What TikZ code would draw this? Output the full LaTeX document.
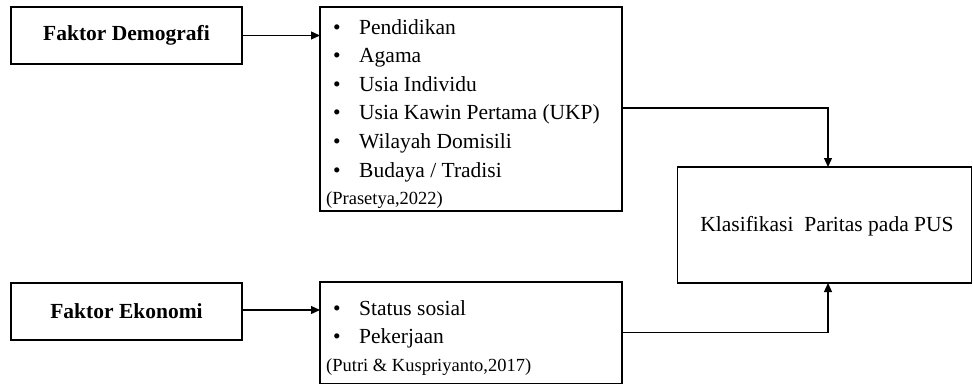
\documentclass[tikz,border=0pt]{standalone}
\usepackage{fontspec}
\setmainfont{Liberation Serif}
\usetikzlibrary{arrows.meta}
\begin{document}
\begin{tikzpicture}[x=1pt,y=-1pt]
\tikzset{
  box/.style={draw, line width=1.5pt, inner sep=0pt, outer sep=0pt},
  conn/.style={line width=1.3pt, -{Triangle[length=9pt,width=8pt]}},
  item/.style={anchor=base west, inner sep=0pt, font=\fontsize{21.5}{25}\selectfont},
  cite/.style={anchor=base west, inner sep=0pt, font=\fontsize{18.5}{22}\selectfont},
  head/.style={font=\fontsize{21.5}{25}\selectfont\bfseries},
  plain/.style={font=\fontsize{21.5}{25}\selectfont}
}
\useasboundingbox (0,0) rectangle (973,385);
% boxes
\node[box, head, minimum width=231pt, minimum height=57pt] (demo) at (126.5,35.5) {Faktor Demografi};
\node[box, head, minimum width=231pt, minimum height=57pt] (eko) at (126.5,311.5) {Faktor Ekonomi};
\node[box, minimum width=302pt, minimum height=204pt] (demolist) at (471,109) {};
\node[box, minimum width=302pt, minimum height=101.5pt] (ekolist) at (471,332.75) {};
\node[box, minimum width=294pt, minimum height=116pt] (klas) at (824.5,225) {};
\node[plain, inner sep=0pt] (klastext) at (827,226) {Klasifikasi\ \ Paritas pada PUS};
% list items
\newcommand{\bul}{\makebox[26pt][l]{•}}
\node[item] (d1) at (333,34.5) {\bul Pendidikan};
\node[item] (d2) at (333,63) {\bul Agama};
\node[item] (d3) at (333,91.5) {\bul Usia Individu};
\node[item] (d4) at (333,120) {\bul Usia Kawin Pertama (UKP)};
\node[item] (d5) at (333,148.5) {\bul Wilayah Domisili};
\node[item] (d6) at (333,177) {\bul Budaya / Tradisi};
\node[cite] (dc) at (326,204) {(Prasetya,2022)};
\node[item] (e1) at (333,315) {\bul Status sosial};
\node[item] (e2) at (333,343.5) {\bul Pekerjaan};
\node[cite] (ec) at (326,371) {(Putri \& Kuspriyanto,2017)};
% connectors
\draw[conn] (demo.east) -- (demo.east -| demolist.west);
\draw[conn] ([yshift=1.5pt]eko.east) -- ([yshift=1.5pt]eko.east -| ekolist.west);
\draw[conn] ([yshift=1pt]demolist.east) -| ([xshift=3.5pt]klas.north);
\draw[conn] (ekolist.east) -| ([xshift=3.5pt]klas.south);
\end{tikzpicture}
\end{document}
